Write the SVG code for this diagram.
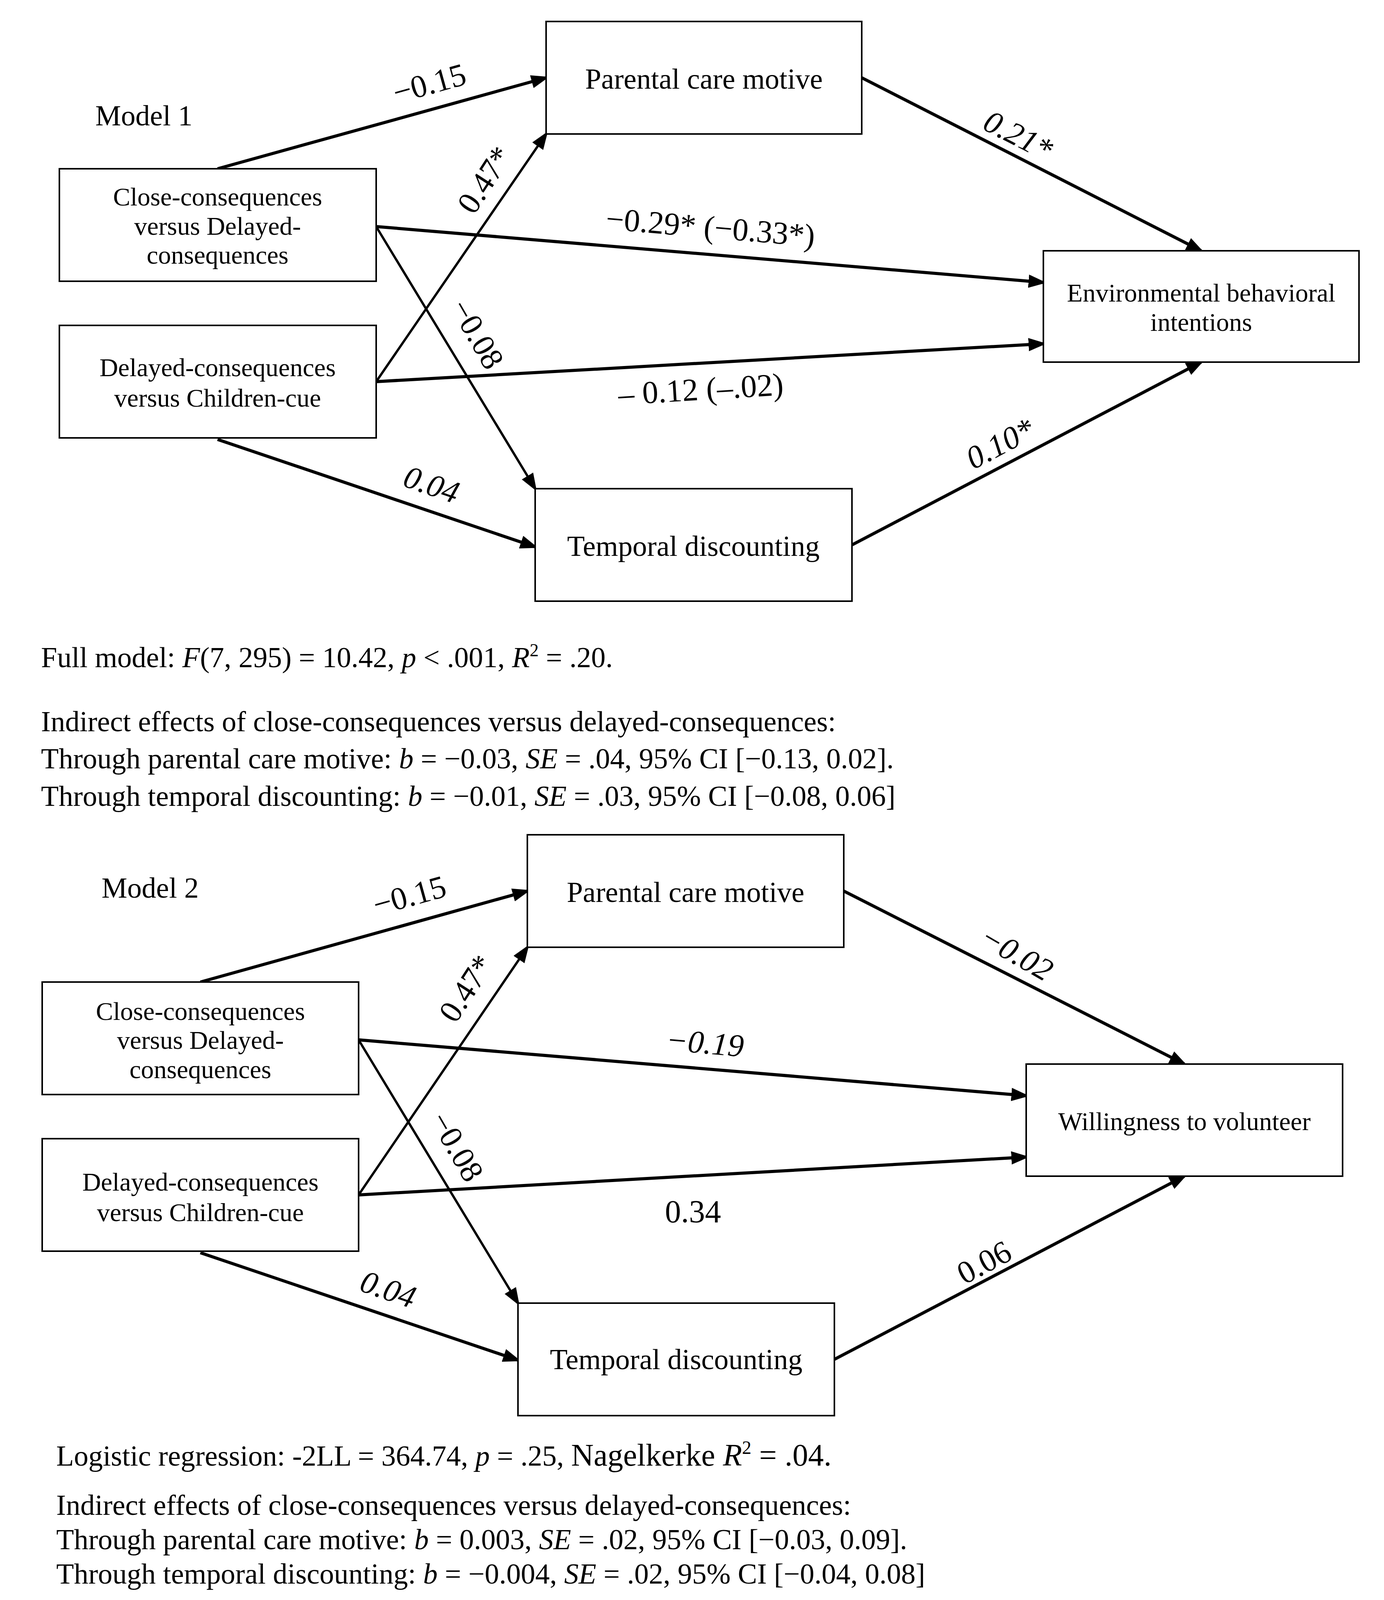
<svg xmlns="http://www.w3.org/2000/svg" width="3543" height="4394" viewBox="0 0 3543 4394">
<style>
text{font-family:"Liberation Serif","Times New Roman",serif;fill:#000}
.box{fill:#fff;stroke:#000;stroke-width:4}
.nt{font-size:66px;text-anchor:middle}
.big{font-size:74px;text-anchor:middle}
.lab{font-size:82px;text-anchor:middle}
.it{font-style:italic}
.body{font-size:74px}
.c{stroke:#000;stroke-width:8;fill:none;marker-end:url(#ah)}
.cx{stroke:#000;stroke-width:6;fill:none;marker-end:url(#ah)}
</style>
<defs>
<marker id="ah" markerUnits="userSpaceOnUse" markerWidth="46" markerHeight="34" viewBox="0 0 46 34" refX="38" refY="17" orient="auto">
<path d="M0,0 L46,17 L0,34 z" fill="#000"/>
</marker>
</defs>
<rect width="3543" height="4394" fill="#fff"/>

<!-- Model 1 -->
<g id="m1-title"><text x="244" y="321" class="body">Model 1</text></g>
<g id="connectors1">
<line class="c" x1="557" y1="432" x2="1398" y2="199"/>
<line class="c" x1="2206" y1="199" x2="3075" y2="642"/>
<line class="c" x1="963" y1="580" x2="2671" y2="723"/>
<line class="cx" x1="963" y1="580" x2="1370" y2="1251"/>
<line class="cx" x1="963" y1="977" x2="1398" y2="343"/>
<line class="c" x1="963" y1="977" x2="2671" y2="880"/>
<line class="c" x1="557" y1="1125" x2="1370" y2="1400"/>
<line class="c" x1="2181" y1="1395" x2="3075" y2="927"/>
<text class="lab" transform="translate(1099,213) rotate(-15.5)" y="28">−0.15</text>
<text class="lab it" transform="translate(2607,346) rotate(27)" y="28">0.21*</text>
<text class="lab" transform="translate(1819,581) rotate(4.8)" y="28">−0.29* (−0.33*)</text>
<text class="lab" transform="translate(1222,855) rotate(60)" y="28">−0.08</text>
<text class="lab" transform="translate(1240,460) rotate(-57)" y="28">0.47*</text>
<text class="lab" transform="translate(1794,996) rotate(-3.5)" y="28">– 0.12 (–.02)</text>
<text class="lab it" transform="translate(1105,1240) rotate(19)" y="28">0.04</text>
<text class="lab it" transform="translate(2560,1135) rotate(-28)" y="28">0.10*</text>
</g>
<g id="m1-parental"><rect class="box" x="1398" y="55" width="808" height="288"/><text class="big" x="1802" y="227">Parental care motive</text></g>
<g id="m1-close"><rect class="box" x="152" y="432" width="811" height="288"/><text class="nt" x="557" y="526">Close-consequences</text><text class="nt" x="557" y="601">versus Delayed-</text><text class="nt" x="557" y="675">consequences</text></g>
<g id="m1-delayed"><rect class="box" x="152" y="833" width="811" height="288"/><text class="nt" x="557" y="963">Delayed-consequences</text><text class="nt" x="557" y="1041">versus Children-cue</text></g>
<g id="m1-env"><rect class="box" x="2671" y="642" width="808" height="285"/><text class="nt" x="3075" y="772">Environmental behavioral</text><text class="nt" x="3075" y="847">intentions</text></g>
<g id="m1-temporal"><rect class="box" x="1370" y="1251" width="811" height="288"/><text class="big" x="1775" y="1423">Temporal discounting</text></g>

<g id="m1-stats">
<text class="body" x="105" y="1708">Full model: <tspan class="it">F</tspan>(7, 295) = 10.42, <tspan class="it">p</tspan> &lt; .001, <tspan class="it">R</tspan><tspan font-size="46" dy="-28">2</tspan><tspan dy="28"> = .20.</tspan></text>
<text class="body" x="105" y="1872">Indirect effects of close-consequences versus delayed-consequences:</text>
<text class="body" x="105" y="1967">Through parental care motive: <tspan class="it">b</tspan> = −0.03, <tspan class="it">SE</tspan> = .04, 95% CI [−0.13, 0.02].</text>
<text class="body" x="105" y="2063">Through temporal discounting: <tspan class="it">b</tspan> = −0.01, <tspan class="it">SE</tspan> = .03, 95% CI [−0.08, 0.06]</text>
</g>

<!-- Model 2 -->
<g id="model2" transform="translate(0,-160)">
<g id="m2-title"><text x="260" y="2458" class="body">Model 2</text></g>
<g id="connectors2">
<line class="c" x1="513" y1="2674" x2="1350" y2="2441"/>
<line class="c" x1="2160" y1="2441" x2="3032" y2="2884"/>
<line class="c" x1="918" y1="2822" x2="2627" y2="2965"/>
<line class="cx" x1="918" y1="2822" x2="1326" y2="3496"/>
<line class="cx" x1="918" y1="3219" x2="1350" y2="2585"/>
<line class="c" x1="918" y1="3219" x2="2627" y2="3122"/>
<line class="c" x1="513" y1="3367" x2="1326" y2="3642"/>
<line class="c" x1="2136" y1="3640" x2="3032" y2="3171"/>
<text class="lab" transform="translate(1048,2452) rotate(-15.5)" y="28">−0.15</text>
<text class="lab it" transform="translate(2603,2600) rotate(30)" y="28">−0.02</text>
<text class="lab it" transform="translate(1805,2829) rotate(5)" y="28">−0.19</text>
<text class="lab" transform="translate(1170,3095) rotate(60)" y="28">−0.08</text>
<text class="lab" transform="translate(1193,2690) rotate(-57)" y="28">0.47*</text>
<text class="lab" transform="translate(1774,3261)" y="28">0.34</text>
<text class="lab it" transform="translate(994,3460) rotate(19)" y="28">0.04</text>
<text class="lab" transform="translate(2519,3391) rotate(-28)" y="28">0.06</text>
</g>
<g id="m2-parental"><rect class="box" x="1350" y="2297" width="810" height="288"/><text class="big" x="1755" y="2469">Parental care motive</text></g>
<g id="m2-close"><rect class="box" x="108" y="2674" width="810" height="288"/><text class="nt" x="513" y="2771">Close-consequences</text><text class="nt" x="513" y="2845">versus Delayed-</text><text class="nt" x="513" y="2920">consequences</text></g>
<g id="m2-delayed"><rect class="box" x="108" y="3075" width="810" height="288"/><text class="nt" x="513" y="3208">Delayed-consequences</text><text class="nt" x="513" y="3286">versus Children-cue</text></g>
<g id="m2-will"><rect class="box" x="2627" y="2884" width="810" height="287"/><text class="nt" x="3032" y="3053">Willingness to volunteer</text></g>
<g id="m2-temporal"><rect class="box" x="1326" y="3496" width="810" height="288"/><text class="big" x="1731" y="3665">Temporal discounting</text></g>
</g>

<g id="m2-stats">
<text class="body" x="144" y="3752">Logistic regression: -2LL = 364.74, <tspan class="it">p</tspan> = .25, <tspan font-size="80">Nagelkerke <tspan class="it">R</tspan></tspan><tspan font-size="48" dy="-30">2</tspan><tspan font-size="80" dy="30"> = .04.</tspan></text>
<text class="body" x="144" y="3878">Indirect effects of close-consequences versus delayed-consequences:</text>
<text class="body" x="144" y="3966">Through parental care motive: <tspan class="it">b</tspan> = 0.003, <tspan class="it">SE</tspan> = .02, 95% CI [−0.03, 0.09].</text>
<text class="body" x="144" y="4054">Through temporal discounting: <tspan class="it">b</tspan> = −0.004, <tspan class="it">SE</tspan> = .02, 95% CI [−0.04, 0.08]</text>
</g>
</svg>
